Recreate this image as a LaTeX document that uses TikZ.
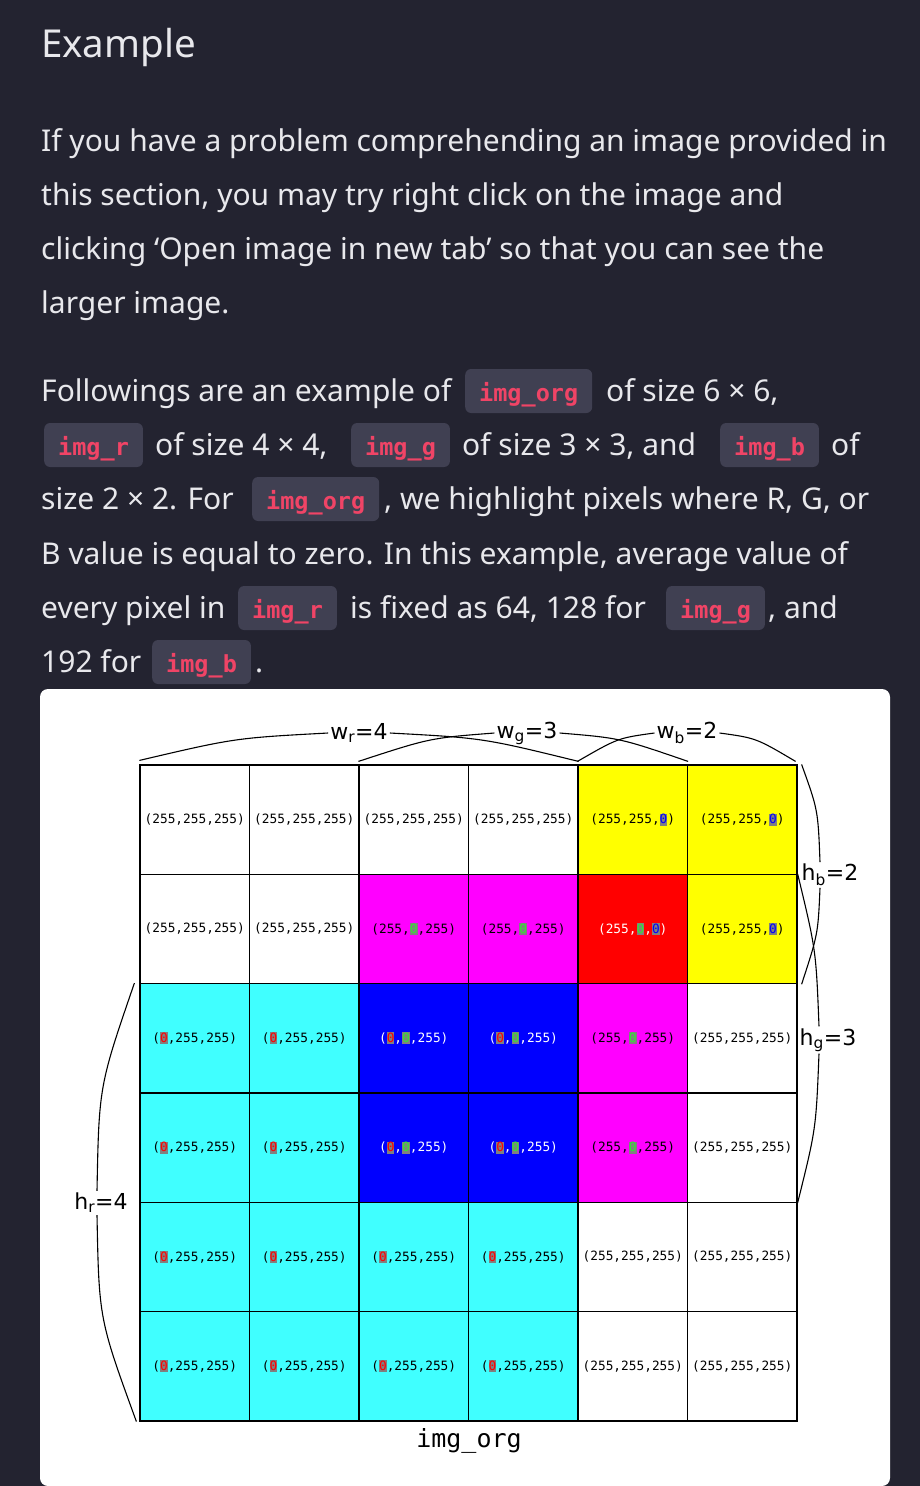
\documentclass[tikz,border=0pt]{standalone}
\usepackage{fontspec}
\setmainfont{Noto Sans}
\newfontfamily\plotfont{DejaVu Sans}
\newfontfamily\plotmono{DejaVu Sans Mono}
\newfontfamily\chipfont{DejaVu Sans Mono}
\usetikzlibrary{positioning}

\definecolor{pagebg}{RGB}{35,35,48}
\definecolor{chipbg}{RGB}{64,64,82}
\definecolor{chiptx}{RGB}{240,68,102}
\definecolor{bodytx}{RGB}{232,232,236}
\definecolor{pxcyan}{RGB}{64,255,255}
\definecolor{pxmagenta}{RGB}{255,0,255}
\definecolor{pxyellow}{RGB}{255,255,0}
\definecolor{pxred}{RGB}{255,0,0}
\definecolor{pxblue}{RGB}{0,0,255}
\definecolor{zgray}{RGB}{128,128,128}
\definecolor{zgreen}{RGB}{50,230,50}

% a zero value, highlighted
\newcommand{\hz}[1]{{\setlength{\fboxsep}{0pt}\colorbox{zgray}{\rule[-2pt]{0pt}{12pt}\textcolor{#1}{0}}}}

\tikzset{
	body/.style={anchor=base west, inner sep=0pt, text=bodytx, font=\fontsize{30}{34}\selectfont},
	chip/.style={anchor=base west, fill=chipbg, rounded corners=6pt, text=chiptx,
		font=\chipfont\bfseries\fontsize{23.5}{26}\selectfont,
		inner xsep=14pt, inner ysep=0pt, text height=32pt, text depth=12pt},
	cell/.style={draw=black, line width=1.2pt, minimum width=109.5pt, minimum height=109.3pt,
		inner sep=0pt, font=\plotmono\fontsize{12.8}{14}\selectfont},
	pxw/.style={fill=white, node contents={(255,255,255)}},
	pxy/.style={fill=pxyellow, node contents={(255,255,\hz{pxblue})}},
	pxm/.style={fill=pxmagenta, node contents={(255,\hz{zgreen},255)}},
	pxr/.style={fill=pxred, text=white, node contents={(255,\hz{zgreen},\hz{pxblue})}},
	pxc/.style={fill=pxcyan, node contents={(\hz{pxred},255,255)}},
	pxb/.style={fill=pxblue, text=white, node contents={(\hz{pxred},\hz{zgreen},255)}},
	lbl/.style={inner sep=2pt, font=\plotfont\fontsize{22}{25}\selectfont},
	brace/.style={draw=black, line width=1.1pt}
}

\begin{document}
\begin{tikzpicture}[x=1pt,y=-1pt]
	\useasboundingbox (0,0) rectangle (920,1486);
	\fill[pagebg] (0,0) rectangle (920,1486);
	% text
	\node[body, font=\fontsize{38.5}{42}\selectfont] (title) at (41,57) {Example};
	\node[body] (p1) at (41,151) {If you have a problem comprehending an image provided in};
	\node[body] (p2) at (41,205) {this section, you may try right click on the image and};
	\node[body] (p3) at (41,259) {clicking ‘Open image in new tab’ so that you can see the};
	\node[body] (p4) at (41,313) {larger image.};
	\node[body] (qa1) at (41,401) {Followings are an example of};
	\node[chip] (ka1) at (465,401) {img\_org};
	\node[body] (qa2) at (606,401) {of size 6 × 6,};
	\node[chip] (kb1) at (44,455) {img\_r};
	\node[body] (qb1) at (155,455) {of size 4 × 4,};
	\node[chip] (kb2) at (351,455) {img\_g};
	\node[body] (qb2) at (462,455) {of size 3 × 3, and};
	\node[chip] (kb3) at (720,455) {img\_b};
	\node[body] (qb3) at (831,455) {of};
	\node[body] (qc1) at (41,509) {size 2 × 2. For};
	\node[chip] (kc1) at (252,509) {img\_org};
	\node[body] (qc2) at (384,509) {, we highlight pixels where R, G, or};
	\node[body] (qd1) at (41,564) {B value is equal to zero. In this example, average value of};
	\node[body] (qe1) at (41,618) {every pixel in};
	\node[chip] (ke1) at (238,618) {img\_r};
	\node[body] (qe2) at (350,618) {is fixed as 64, 128 for};
	\node[chip] (ke2) at (666,618) {img\_g};
	\node[body] (qe3) at (768,618) {, and};
	\node[body] (qf1) at (41,672) {192 for};
	\node[chip] (kf1) at (152,672) {img\_b};
	\node[body] (qf2) at (255,672) {.};
	% panel
	\fill[white, rounded corners=8pt] (40,689) rectangle (890,1486);
	% pixels
	\foreach \row [count=\i from 0] in {{pxw,pxw,pxw,pxw,pxy,pxy},{pxw,pxw,pxm,pxm,pxr,pxy},{pxc,pxc,pxb,pxb,pxm,pxw},
		{pxc,pxc,pxb,pxb,pxm,pxw},{pxc,pxc,pxc,pxc,pxw,pxw},{pxc,pxc,pxc,pxc,pxw,pxw}}
		\foreach \c [count=\j from 0] in \row
			\node (c\i\j) at ({140+109.5*(\j+0.5)},{765+109.33*(\i+0.5)}) [cell,\c];
	\draw[line width=1.6pt] (c00.north west) rectangle (c55.south east);
	\node[font=\plotmono\fontsize{25}{28}\selectfont] (orgname) at (469,1441) {img\_org};
	% widths
	\node[lbl] (wr) at (359,733) {w\textsubscript{r}=4};
	\node[lbl] (wg) at (527,733) {w\textsubscript{g}=3};
	\node[lbl] (wb) at (687,733) {w\textsubscript{b}=2};
	\draw[brace] ([yshift=4pt]c00.north west) .. controls (235,738) .. (wr.west);
	\draw[brace] (wr.east) .. controls (483,738) .. ([yshift=3pt]c03.north east);
	\draw[brace] ([yshift=3pt]c02.north west) .. controls (430,738) .. (wg.west);
	\draw[brace] (wg.east) .. controls (620,738) .. ([yshift=3pt]c04.north east);
	\draw[brace] ([yshift=3pt]c04.north west) .. controls (618,738) .. (wb.west);
	\draw[brace] (wb.east) .. controls (756,738) .. ([xshift=-2pt,yshift=3pt]c05.north east);
	% heights
	\node[lbl] (hb) at (830,875) {h\textsubscript{b}=2};
	\node[lbl] (hg) at (828,1040) {h\textsubscript{g}=3};
	\node[lbl] (hr) at (101,1203) {h\textsubscript{r}=4};
	\draw[brace] ([xshift=4pt]c05.north east) .. controls (818,810) .. ([xshift=-10pt]hb.north);
	\draw[brace] ([xshift=-10pt]hb.south) .. controls (818,934) .. ([xshift=4pt]c15.south east);
	\draw[brace] (c15.north east) .. controls (816,950) .. ([xshift=-9pt]hg.north);
	\draw[brace] ([xshift=-9pt]hg.south) .. controls (816,1129) .. (c35.south east);
	\draw[brace] ([xshift=-5pt]c20.north west) .. controls (99,1086) .. ([xshift=-4pt]hr.north);
	\draw[brace] ([xshift=-4pt]hr.south) .. controls (99,1319) .. ([xshift=-3pt]c50.south west);
\end{tikzpicture}
\end{document}
